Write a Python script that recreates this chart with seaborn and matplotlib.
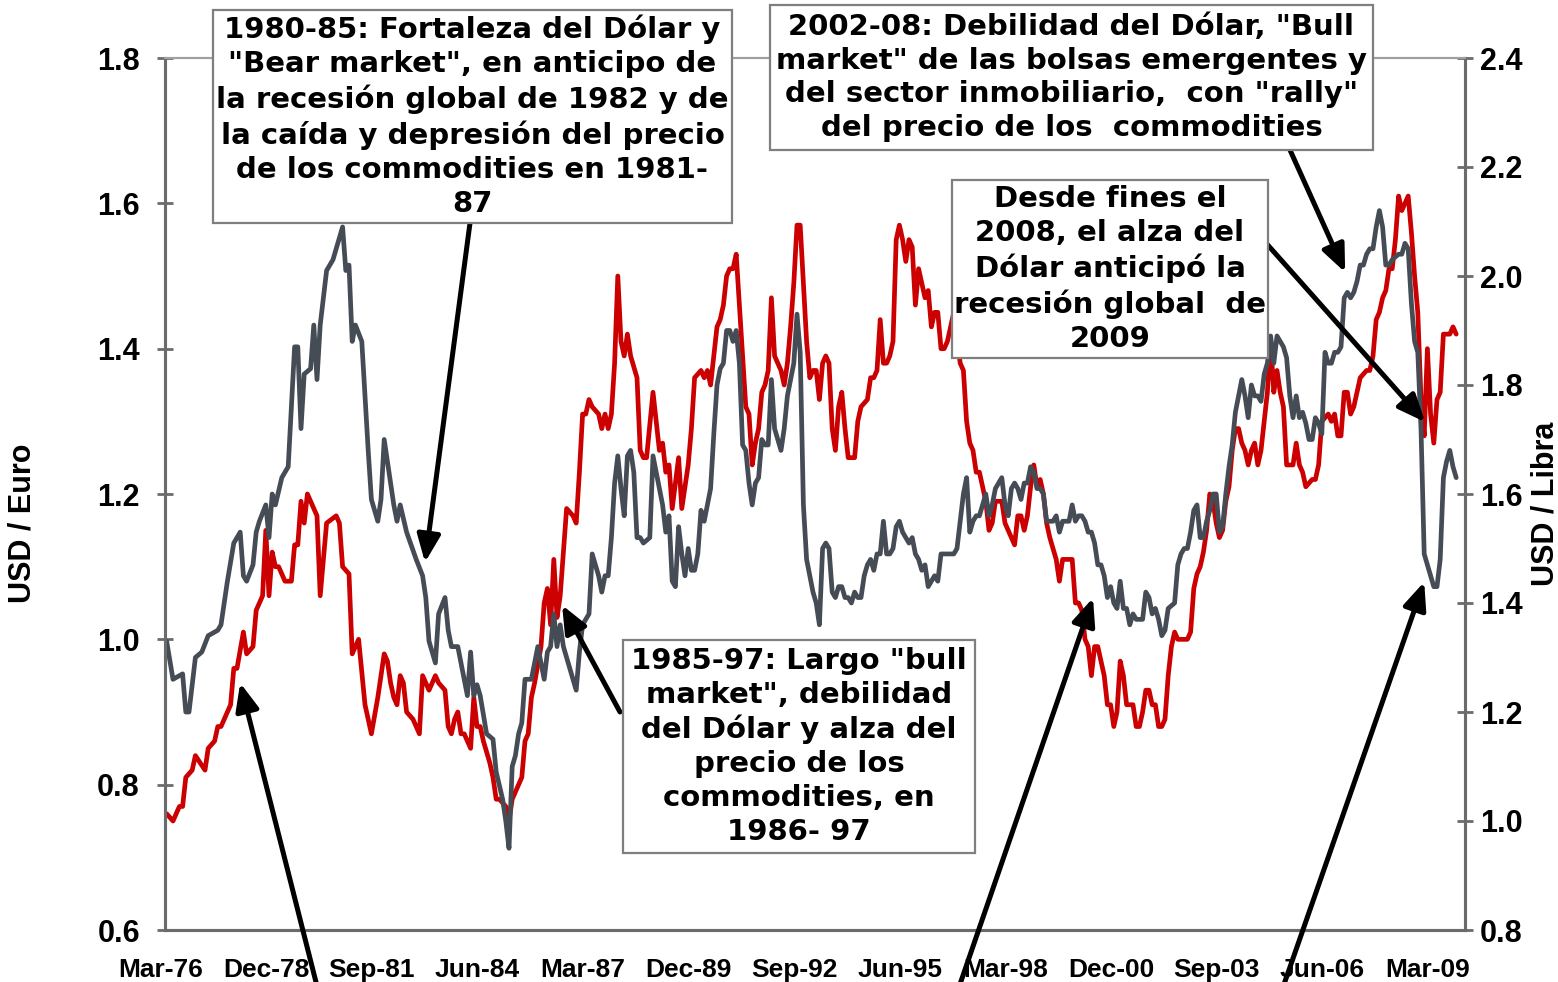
import matplotlib
matplotlib.use("Agg")
import matplotlib.pyplot as plt
import matplotlib.transforms as mtrans
from matplotlib.patches import Rectangle, ArrowStyle
from matplotlib.ticker import FormatStrFormatter
import pandas as pd
import seaborn as sns

W, H = 1558, 982

# eje de categorías: meses contados desde Mar-76
x_labels = ['Mar-76', 'Dec-78', 'Sep-81', 'Jun-84', 'Mar-87', 'Dec-89', 'Sep-92',
            'Jun-95', 'Mar-98', 'Dec-00', 'Sep-03', 'Jun-06', 'Mar-09']
left_ticks = [0.6, 0.8, 1.0, 1.2, 1.4, 1.6, 1.8]
right_ticks = [0.8, 1.0, 1.2, 1.4, 1.6, 1.8, 2.0, 2.2, 2.4]

# USD / Euro (rojo, eje izquierdo)
eur_m = [0, 2, 4, 5, 6, 8, 9, 12, 13, 15, 16, 17, 18, 20, 21, 22, 24, 25, 27, 28,
         30, 31, 32, 33, 34, 35, 37, 39, 40, 41, 42, 43, 44, 45, 47, 48, 50, 53, 54, 55,
         57, 58, 60, 62, 64, 66, 68, 69, 70, 71, 72, 73, 74, 75, 77, 78, 79, 80, 82, 83,
         84, 85, 87, 88, 89, 90, 91, 92, 93, 95, 96, 97, 98, 99, 101, 102, 103, 104, 106, 107,
         108, 109, 111, 112, 113, 114, 115, 117, 118, 119, 120, 121, 122, 123, 124, 125, 127, 128, 129, 130,
         131, 132, 133, 135, 136, 137, 138, 139, 140, 141, 142, 143, 144, 145, 147, 148, 149, 150, 152, 154,
         155, 156, 157, 158, 160, 161, 163, 164, 165, 167, 168, 169, 170, 172, 173, 174, 175, 176, 177, 178,
         179, 181, 182, 183, 184, 185, 186, 187, 188, 189, 190, 192, 193, 194, 195, 196, 197, 198, 199, 200,
         201, 202, 203, 204, 205, 206, 207, 208, 209, 210, 211, 212, 213, 215, 216, 217, 219, 220, 221, 222,
         223, 224, 225, 226, 227, 228, 229, 230, 231, 232, 233, 234, 235, 236, 237, 238, 239, 240, 241, 242,
         243, 244, 245, 246, 248, 249, 250, 251, 252, 253, 254, 255, 256, 257, 258, 259, 260, 261, 262, 263,
         264, 265, 266, 267, 268, 269, 270, 271, 272, 273, 274, 275, 276, 278, 279, 280, 281, 283, 284, 285,
         286, 287, 288, 289, 290, 291, 293, 294, 295, 296, 297, 298, 299, 300, 301, 302, 303, 304, 305, 306,
         307, 308, 309, 310, 311, 312, 313, 314, 315, 316, 317, 319, 320, 321, 322, 323, 324, 325, 326, 327,
         328, 329, 330, 331, 332, 333, 334, 335, 336, 337, 338, 339, 340, 341, 342, 343, 344, 345, 346, 347,
         348, 349, 350, 352, 353, 354, 355, 356, 358, 359, 360, 361, 363, 364, 365, 366, 367, 368, 369, 370,
         371, 372, 373, 375, 376, 377, 378, 379, 380, 381, 382, 383, 384, 385, 386, 387, 388, 389, 390, 391,
         392, 393, 394, 395, 396, 397, 398, 399, 400, 401, 402, 403]
eur_v = [0.76, 0.75, 0.77, 0.77, 0.81, 0.82, 0.84, 0.82, 0.85, 0.86, 0.88, 0.88, 0.89, 0.91, 0.96, 0.96, 1.01, 0.98, 0.99, 1.04,
         1.06, 1.15, 1.06, 1.12, 1.10, 1.10, 1.08, 1.08, 1.13, 1.13, 1.19, 1.16, 1.20, 1.19, 1.17, 1.06, 1.16, 1.17, 1.16, 1.10,
         1.09, 0.98, 1.00, 0.91, 0.87, 0.92, 0.98, 0.97, 0.94, 0.92, 0.91, 0.95, 0.94, 0.90, 0.89, 0.88, 0.87, 0.95, 0.93, 0.94,
         0.95, 0.94, 0.93, 0.88, 0.87, 0.89, 0.90, 0.87, 0.87, 0.85, 0.92, 0.88, 0.88, 0.86, 0.83, 0.81, 0.78, 0.78, 0.77, 0.75,
         0.78, 0.79, 0.81, 0.86, 0.87, 0.92, 0.94, 0.99, 1.05, 1.07, 1.02, 1.11, 1.03, 1.06, 1.12, 1.18, 1.17, 1.16, 1.23, 1.31,
         1.31, 1.33, 1.32, 1.31, 1.29, 1.31, 1.29, 1.31, 1.38, 1.50, 1.41, 1.39, 1.42, 1.39, 1.36, 1.26, 1.25, 1.25, 1.34, 1.26,
         1.27, 1.23, 1.24, 1.18, 1.25, 1.18, 1.24, 1.29, 1.36, 1.37, 1.36, 1.37, 1.35, 1.43, 1.44, 1.46, 1.50, 1.51, 1.51, 1.53,
         1.46, 1.32, 1.31, 1.24, 1.27, 1.29, 1.34, 1.35, 1.37, 1.47, 1.39, 1.37, 1.35, 1.38, 1.43, 1.49, 1.57, 1.57, 1.49, 1.41,
         1.36, 1.37, 1.37, 1.33, 1.38, 1.39, 1.38, 1.29, 1.26, 1.32, 1.34, 1.29, 1.25, 1.25, 1.30, 1.32, 1.33, 1.36, 1.36, 1.37,
         1.44, 1.38, 1.38, 1.39, 1.41, 1.55, 1.57, 1.55, 1.52, 1.55, 1.54, 1.46, 1.51, 1.49, 1.47, 1.48, 1.43, 1.45, 1.45, 1.40,
         1.40, 1.41, 1.43, 1.45, 1.38, 1.37, 1.30, 1.27, 1.26, 1.23, 1.23, 1.21, 1.19, 1.15, 1.16, 1.19, 1.19, 1.19, 1.16, 1.15,
         1.14, 1.13, 1.17, 1.17, 1.15, 1.17, 1.21, 1.24, 1.21, 1.22, 1.20, 1.16, 1.14, 1.11, 1.08, 1.11, 1.11, 1.11, 1.05, 1.05,
         1.04, 1.00, 0.99, 0.95, 0.99, 0.99, 0.95, 0.91, 0.91, 0.88, 0.90, 0.97, 0.95, 0.91, 0.91, 0.91, 0.88, 0.88, 0.90, 0.93,
         0.93, 0.91, 0.91, 0.88, 0.88, 0.89, 0.95, 0.99, 1.01, 1.00, 1.00, 1.00, 1.01, 1.07, 1.09, 1.10, 1.12, 1.15, 1.20, 1.19,
         1.16, 1.14, 1.15, 1.19, 1.21, 1.26, 1.29, 1.29, 1.27, 1.26, 1.24, 1.26, 1.27, 1.24, 1.26, 1.30, 1.34, 1.41, 1.34, 1.37,
         1.34, 1.32, 1.24, 1.24, 1.27, 1.24, 1.23, 1.21, 1.22, 1.22, 1.24, 1.30, 1.31, 1.30, 1.31, 1.28, 1.28, 1.34, 1.34, 1.31,
         1.32, 1.34, 1.36, 1.37, 1.37, 1.39, 1.44, 1.45, 1.47, 1.48, 1.51, 1.51, 1.55, 1.61, 1.59, 1.60, 1.61, 1.56, 1.50, 1.45,
         1.33, 1.28, 1.40, 1.31, 1.27, 1.33, 1.34, 1.42, 1.42, 1.42, 1.43, 1.42]

# USD / Libra (gris, eje derecho)
gbp_m = [0, 2, 5, 6, 7, 9, 11, 13, 16, 17, 19, 21, 23, 24, 25, 27, 28, 29, 31, 32,
         33, 34, 36, 38, 40, 41, 42, 43, 45, 46, 47, 48, 50, 52, 54, 55, 56, 57, 58, 59,
         61, 63, 64, 66, 67, 68, 71, 72, 73, 75, 78, 80, 81, 82, 84, 85, 87, 88, 89, 91,
         93, 94, 95, 96, 97, 98, 100, 102, 103, 105, 106, 107, 108, 109, 110, 111, 112, 114, 116, 118,
         119, 120, 121, 122, 123, 124, 126, 128, 129, 130, 132, 133, 135, 136, 137, 138, 139, 140, 141, 142,
         143, 144, 145, 146, 147, 148, 149, 151, 152, 153, 154, 155, 156, 157, 158, 159, 160, 161, 162, 163,
         164, 165, 166, 167, 168, 169, 170, 171, 172, 173, 174, 175, 176, 177, 178, 179, 180, 181, 182, 183,
         184, 185, 186, 187, 188, 189, 190, 191, 192, 193, 194, 196, 197, 198, 199, 200, 201, 202, 203, 204,
         205, 206, 207, 208, 209, 210, 211, 212, 213, 214, 215, 216, 217, 218, 219, 220, 221, 222, 223, 224,
         225, 226, 227, 228, 229, 230, 231, 232, 233, 234, 235, 236, 237, 238, 240, 241, 242, 244, 245, 246,
         247, 248, 249, 250, 251, 252, 253, 254, 255, 256, 257, 258, 259, 260, 261, 262, 263, 264, 265, 266,
         267, 268, 269, 270, 271, 272, 273, 274, 275, 276, 277, 278, 279, 280, 281, 282, 283, 284, 285, 286,
         287, 288, 289, 290, 291, 292, 293, 294, 295, 296, 297, 298, 299, 300, 301, 302, 303, 304, 305, 306,
         307, 308, 309, 310, 311, 312, 313, 315, 316, 317, 318, 319, 320, 321, 322, 323, 324, 325, 326, 327,
         328, 329, 330, 331, 332, 333, 334, 335, 336, 337, 338, 339, 340, 341, 342, 343, 344, 345, 346, 347,
         348, 349, 350, 351, 352, 353, 354, 355, 356, 357, 358, 359, 360, 361, 362, 363, 364, 365, 366, 367,
         368, 369, 370, 371, 372, 373, 374, 375, 376, 377, 378, 379, 380, 381, 382, 383, 385, 386, 387, 388,
         389, 390, 391, 392, 393, 394, 395, 396, 397, 398, 399, 400, 401, 402, 403]
gbp_v = [1.33, 1.26, 1.27, 1.20, 1.20, 1.30, 1.31, 1.34, 1.35, 1.36, 1.44, 1.51, 1.53, 1.45, 1.44, 1.47, 1.53, 1.55, 1.58, 1.52,
         1.60, 1.58, 1.63, 1.65, 1.87, 1.87, 1.72, 1.82, 1.83, 1.91, 1.81, 1.91, 2.01, 2.03, 2.07, 2.09, 2.01, 2.02, 1.88, 1.91,
         1.88, 1.68, 1.59, 1.55, 1.59, 1.70, 1.58, 1.55, 1.58, 1.53, 1.48, 1.45, 1.41, 1.33, 1.29, 1.38, 1.41, 1.35, 1.32, 1.32,
         1.26, 1.23, 1.31, 1.23, 1.25, 1.23, 1.16, 1.15, 1.09, 1.04, 1.00, 0.95, 1.10, 1.12, 1.16, 1.18, 1.26, 1.26, 1.32, 1.26,
         1.31, 1.32, 1.38, 1.32, 1.36, 1.32, 1.28, 1.24, 1.31, 1.36, 1.38, 1.49, 1.45, 1.42, 1.45, 1.45, 1.52, 1.62, 1.67, 1.61,
         1.56, 1.67, 1.68, 1.64, 1.52, 1.52, 1.51, 1.52, 1.67, 1.64, 1.61, 1.58, 1.53, 1.56, 1.44, 1.43, 1.54, 1.49, 1.45, 1.50,
         1.46, 1.46, 1.49, 1.57, 1.55, 1.58, 1.61, 1.71, 1.80, 1.83, 1.84, 1.90, 1.90, 1.88, 1.90, 1.84, 1.69, 1.68, 1.62, 1.58,
         1.62, 1.63, 1.70, 1.69, 1.69, 1.81, 1.72, 1.70, 1.68, 1.72, 1.78, 1.84, 1.93, 1.86, 1.58, 1.48, 1.45, 1.42, 1.40, 1.36,
         1.50, 1.51, 1.50, 1.42, 1.41, 1.43, 1.43, 1.41, 1.41, 1.40, 1.42, 1.41, 1.41, 1.45, 1.47, 1.48, 1.46, 1.49, 1.49, 1.55,
         1.49, 1.49, 1.50, 1.54, 1.55, 1.53, 1.52, 1.51, 1.52, 1.49, 1.48, 1.46, 1.47, 1.43, 1.45, 1.44, 1.49, 1.49, 1.49, 1.49,
         1.50, 1.55, 1.60, 1.63, 1.53, 1.55, 1.56, 1.56, 1.58, 1.60, 1.56, 1.58, 1.61, 1.62, 1.63, 1.58, 1.56, 1.61, 1.62, 1.61,
         1.59, 1.62, 1.62, 1.65, 1.64, 1.61, 1.61, 1.60, 1.55, 1.55, 1.55, 1.56, 1.53, 1.55, 1.55, 1.55, 1.58, 1.55, 1.56, 1.56,
         1.55, 1.53, 1.53, 1.51, 1.47, 1.47, 1.45, 1.41, 1.43, 1.40, 1.39, 1.44, 1.39, 1.39, 1.36, 1.38, 1.37, 1.37, 1.37, 1.42,
         1.41, 1.38, 1.39, 1.37, 1.34, 1.35, 1.39, 1.40, 1.47, 1.49, 1.50, 1.50, 1.53, 1.57, 1.58, 1.52, 1.52, 1.55, 1.57, 1.60,
         1.60, 1.53, 1.54, 1.60, 1.65, 1.69, 1.75, 1.78, 1.81, 1.78, 1.74, 1.80, 1.78, 1.78, 1.77, 1.82, 1.84, 1.89, 1.84, 1.89,
         1.88, 1.87, 1.85, 1.78, 1.74, 1.78, 1.74, 1.75, 1.73, 1.70, 1.70, 1.74, 1.73, 1.71, 1.86, 1.84, 1.84, 1.86, 1.86, 1.87,
         1.96, 1.97, 1.96, 1.97, 1.99, 2.02, 2.02, 2.04, 2.05, 2.05, 2.09, 2.12, 2.09, 2.02, 2.02, 2.03, 2.04, 2.04, 2.06, 2.05,
         1.95, 1.88, 1.86, 1.72, 1.49, 1.47, 1.45, 1.43, 1.43, 1.48, 1.63, 1.66, 1.68, 1.65, 1.63]

eur = pd.DataFrame({"mes": eur_m, "usd_euro": eur_v})
gbp = pd.DataFrame({"mes": gbp_m, "usd_libra": gbp_v})

sns.set_style("white")
plt.rcParams["font.family"] = ["Liberation Sans", "DejaVu Sans"]
plt.rcParams["font.weight"] = "bold"
plt.rcParams["text.color"] = "black"

axis_gray = "#6b6b6b"

fig = plt.figure(figsize=(W / 100, H / 100), dpi=100)
ax = fig.add_axes([165 / W, 1 - 930 / H, 1300 / W, 872 / H])
ax2 = ax.twinx()

sns.lineplot(data=eur, x="mes", y="usd_euro", ax=ax, color="#cc0000", linewidth=3.4)
sns.lineplot(data=gbp, x="mes", y="usd_libra", ax=ax2, color="#454c55", linewidth=3.4)

ax.set_xlim(-0.5, 405.75)
ax.set_ylim(0.6, 1.8)
ax2.set_ylim(0.8, 2.4)
ax.set_xlabel("")
ax.set_ylabel("")
ax2.set_ylabel("")

ax.set_xticks(range(0, 33 * len(x_labels), 33), x_labels)
ax.set_yticks(left_ticks)
ax2.set_yticks(right_ticks)
ax.yaxis.set_major_formatter(FormatStrFormatter("%.1f"))
ax2.yaxis.set_major_formatter(FormatStrFormatter("%.1f"))

ax.tick_params(axis="x", length=0, labelsize=19, pad=20, labelcolor="black")
ax.tick_params(axis="y", direction="inout", length=12, width=2, color=axis_gray,
               labelsize=22, pad=12, labelcolor="black")
ax2.tick_params(axis="y", direction="inout", length=12, width=2, color=axis_gray,
                labelsize=22, pad=4.8, labelcolor="black")

# etiquetas del eje x un poco corridas a la izquierda, como en Excel
shift = mtrans.ScaledTranslation(-6 / 100, 0, fig.dpi_scale_trans)
for lbl in ax.get_xticklabels():
    lbl.set_transform(lbl.get_transform() + shift)

for a in (ax, ax2):
    for s in ("left", "right", "bottom"):
        a.spines[s].set_color(axis_gray)
        a.spines[s].set_linewidth(2.2)
        a.spines[s].set_visible(True)
    a.spines["top"].set_color("#a0a0a0")
    a.spines["top"].set_linewidth(1.5)

fig.text(22.5 / W, 1 - 523 / H, "USD / Euro", rotation=90, ha="center", va="center", fontsize=22)
fig.text(1545 / W, 1 - 504 / H, "USD / Libra", rotation=90, ha="center", va="center", fontsize=22)

# cuadros de texto (x0, y0, x1, y1 en píxeles de la imagen)
boxes = [
    ((213, 10, 732, 223),
     '1980-85: Fortaleza del Dólar y\n"Bear market", en anticipo de\nla recesión global de 1982 y de\n'
     'la caída y depresión del precio\nde los commodities en 1981-\n87'),
    ((770, 5, 1373, 150),
     '2002-08: Debilidad del Dólar, "Bull\nmarket" de las bolsas emergentes y\n'
     'del sector inmobiliario,  con "rally"\ndel precio de los  commodities'),
    ((952, 180, 1268, 358),
     'Desde fines el\n2008, el alza del\nDólar anticipó la\nrecesión global  de\n2009'),
    ((623, 640, 975, 853),
     '1985-97: Largo "bull\nmarket", debilidad\ndel Dólar y alza del\nprecio de los\ncommodities, en\n1986- 97'),
]
for (x0, y0, x1, y1), txt in boxes:
    fig.add_artist(Rectangle((x0 / W, 1 - y1 / H), (x1 - x0) / W, (y1 - y0) / H,
                             transform=fig.transFigure, facecolor="white",
                             edgecolor="#7f7f7f", linewidth=1.6, zorder=2))
    fig.text((x0 + x1) / 2 / W, 1 - (y0 + y1) / 2 / H, txt, ha="center", va="center",
             multialignment="center", family="DejaVu Sans", fontweight="bold",
             fontsize=21, linespacing=1.27, color="black", zorder=3)

# flechas: punta en datos (mes, USD/Euro), cola en píxeles de la imagen
arrows = [
    ((80.75, 1.106), (470, 223)),
    ((123.6, 1.047), (620, 712)),
    ((23.0, 0.940), (318, 990)),
    ((368.3, 1.505), (1290, 150)),
    ((393.3, 1.299), (1266, 243)),
    ((289.5, 1.057), (958, 990)),
    ((393.0, 1.079), (1282, 990)),
]
head = ArrowStyle("-|>", head_length=0.75, head_width=0.32)
for tip, tail in arrows:
    ax2.annotate("", xy=tip, xycoords=ax.transData,
                 xytext=(tail[0], H - tail[1]), textcoords="figure pixels",
                 arrowprops=dict(arrowstyle=head, mutation_scale=22, lw=3.6, color="black",
                                 shrinkA=0, shrinkB=0),
                 annotation_clip=False)

fig.savefig("out.png", dpi=100)
